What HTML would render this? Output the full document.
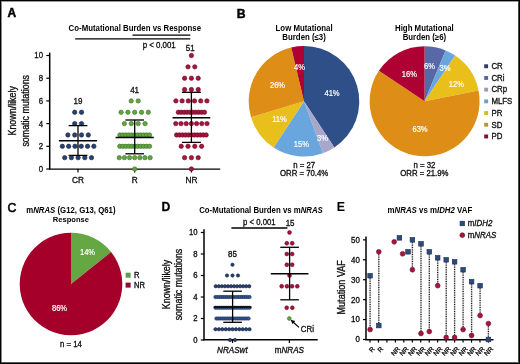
<!DOCTYPE html>
<html><head><meta charset="utf-8"><style>
html,body{margin:0;padding:0;background:#fff;}
body{width:520px;height:364px;overflow:hidden;}
svg{display:block;will-change:transform;}
text{font-family:"Liberation Sans",sans-serif;}
</style></head><body>
<svg width="520" height="364" viewBox="0 0 520 364">
<rect x="0" y="0" width="520" height="364" fill="#fff"/>
<defs><filter id="b" x="0" y="0" width="100%" height="100%"><feGaussianBlur stdDeviation="0.3"/></filter></defs>
<g filter="url(#b)">
<text transform="translate(7.6,17.1) scale(1.0,1)" font-size="12.000" text-anchor="start" font-weight="bold" fill="#000" stroke="#000" stroke-width="0.5">A</text>
<text transform="translate(134.8,30.8) scale(0.95,1)" font-size="8.263" text-anchor="middle" font-weight="bold" fill="#000">Co-Mutational Burden vs Response</text>
<line x1="132.5" y1="35.1" x2="190.3" y2="35.1" stroke="#000" stroke-width="1.3"/>
<line x1="75.2" y1="38.8" x2="190.3" y2="38.8" stroke="#000" stroke-width="1.3"/>
<text transform="translate(159.2,48.3) scale(0.88,1)" font-size="8.977" text-anchor="middle" fill="#0a0a0a" stroke="#0a0a0a" stroke-width="0.3">p &lt; 0.001</text>
<line x1="49.7" y1="52.6" x2="49.7" y2="169.6" stroke="#000" stroke-width="1.5"/>
<line x1="49.0" y1="169.1" x2="220.2" y2="169.1" stroke="#000" stroke-width="1.4"/>
<line x1="46.3" y1="169.0" x2="49.7" y2="169.0" stroke="#000" stroke-width="1.2"/>
<text transform="translate(43.0,171.9) scale(0.88,1)" font-size="8.864" text-anchor="end" fill="#0a0a0a" stroke="#0a0a0a" stroke-width="0.3">0</text>
<line x1="46.3" y1="146.3" x2="49.7" y2="146.3" stroke="#000" stroke-width="1.2"/>
<text transform="translate(43.0,149.20000000000002) scale(0.88,1)" font-size="8.864" text-anchor="end" fill="#0a0a0a" stroke="#0a0a0a" stroke-width="0.3">2</text>
<line x1="46.3" y1="123.6" x2="49.7" y2="123.6" stroke="#000" stroke-width="1.2"/>
<text transform="translate(43.0,126.5) scale(0.88,1)" font-size="8.864" text-anchor="end" fill="#0a0a0a" stroke="#0a0a0a" stroke-width="0.3">4</text>
<line x1="46.3" y1="100.9" x2="49.7" y2="100.9" stroke="#000" stroke-width="1.2"/>
<text transform="translate(43.0,103.80000000000001) scale(0.88,1)" font-size="8.864" text-anchor="end" fill="#0a0a0a" stroke="#0a0a0a" stroke-width="0.3">6</text>
<line x1="46.3" y1="78.2" x2="49.7" y2="78.2" stroke="#000" stroke-width="1.2"/>
<text transform="translate(43.0,81.10000000000001) scale(0.88,1)" font-size="8.864" text-anchor="end" fill="#0a0a0a" stroke="#0a0a0a" stroke-width="0.3">8</text>
<line x1="46.3" y1="55.5" x2="49.7" y2="55.5" stroke="#000" stroke-width="1.2"/>
<text transform="translate(43.0,58.4) scale(0.88,1)" font-size="8.864" text-anchor="end" fill="#0a0a0a" stroke="#0a0a0a" stroke-width="0.3">10</text>
<line x1="78.0" y1="169" x2="78.0" y2="172.4" stroke="#000" stroke-width="1.2"/>
<line x1="134.7" y1="169" x2="134.7" y2="172.4" stroke="#000" stroke-width="1.2"/>
<line x1="191.4" y1="169" x2="191.4" y2="172.4" stroke="#000" stroke-width="1.2"/>
<text transform="translate(78.0,183.1) scale(0.88,1)" font-size="9.432" text-anchor="middle" fill="#0a0a0a" stroke="#0a0a0a" stroke-width="0.3">CR</text>
<text transform="translate(134.7,183.1) scale(0.88,1)" font-size="9.432" text-anchor="middle" fill="#0a0a0a" stroke="#0a0a0a" stroke-width="0.3">R</text>
<text transform="translate(191.4,183.1) scale(0.88,1)" font-size="9.432" text-anchor="middle" fill="#0a0a0a" stroke="#0a0a0a" stroke-width="0.3">NR</text>
<g transform="translate(16.25,110.8) rotate(-90)">
<text transform="translate(0,0) scale(0.88,1)" font-size="10.114" text-anchor="middle" fill="#0a0a0a" stroke="#0a0a0a" stroke-width="0.3">Known/likely</text>
<text transform="translate(0,12.5) scale(0.88,1)" font-size="10.114" text-anchor="middle" fill="#0a0a0a" stroke="#0a0a0a" stroke-width="0.3">somatic mutations</text>
</g>
<circle cx="74.70" cy="112.25" r="2.20" fill="#28426f" stroke="#15223f" stroke-width="0.6"/>
<circle cx="81.50" cy="112.25" r="2.20" fill="#28426f" stroke="#15223f" stroke-width="0.6"/>
<circle cx="74.70" cy="123.60" r="2.20" fill="#28426f" stroke="#15223f" stroke-width="0.6"/>
<circle cx="81.50" cy="123.60" r="2.20" fill="#28426f" stroke="#15223f" stroke-width="0.6"/>
<circle cx="67.90" cy="134.95" r="2.20" fill="#28426f" stroke="#15223f" stroke-width="0.6"/>
<circle cx="74.70" cy="134.95" r="2.20" fill="#28426f" stroke="#15223f" stroke-width="0.6"/>
<circle cx="81.50" cy="134.95" r="2.20" fill="#28426f" stroke="#15223f" stroke-width="0.6"/>
<circle cx="88.30" cy="134.95" r="2.20" fill="#28426f" stroke="#15223f" stroke-width="0.6"/>
<circle cx="62.35" cy="146.30" r="2.20" fill="#28426f" stroke="#15223f" stroke-width="0.6"/>
<circle cx="68.65" cy="146.30" r="2.20" fill="#28426f" stroke="#15223f" stroke-width="0.6"/>
<circle cx="74.95" cy="146.30" r="2.20" fill="#28426f" stroke="#15223f" stroke-width="0.6"/>
<circle cx="81.25" cy="146.30" r="2.20" fill="#28426f" stroke="#15223f" stroke-width="0.6"/>
<circle cx="87.55" cy="146.30" r="2.20" fill="#28426f" stroke="#15223f" stroke-width="0.6"/>
<circle cx="93.85" cy="146.30" r="2.20" fill="#28426f" stroke="#15223f" stroke-width="0.6"/>
<circle cx="64.70" cy="157.65" r="2.20" fill="#28426f" stroke="#15223f" stroke-width="0.6"/>
<circle cx="71.40" cy="157.65" r="2.20" fill="#28426f" stroke="#15223f" stroke-width="0.6"/>
<circle cx="78.10" cy="157.65" r="2.20" fill="#28426f" stroke="#15223f" stroke-width="0.6"/>
<circle cx="84.80" cy="157.65" r="2.20" fill="#28426f" stroke="#15223f" stroke-width="0.6"/>
<circle cx="91.50" cy="157.65" r="2.20" fill="#28426f" stroke="#15223f" stroke-width="0.6"/>
<circle cx="131.20" cy="100.90" r="2.20" fill="#62a540" stroke="#3d7628" stroke-width="0.6"/>
<circle cx="138.20" cy="100.90" r="2.20" fill="#62a540" stroke="#3d7628" stroke-width="0.6"/>
<circle cx="121.10" cy="112.25" r="2.20" fill="#62a540" stroke="#3d7628" stroke-width="0.6"/>
<circle cx="127.90" cy="112.25" r="2.20" fill="#62a540" stroke="#3d7628" stroke-width="0.6"/>
<circle cx="134.70" cy="112.25" r="2.20" fill="#62a540" stroke="#3d7628" stroke-width="0.6"/>
<circle cx="141.50" cy="112.25" r="2.20" fill="#62a540" stroke="#3d7628" stroke-width="0.6"/>
<circle cx="148.30" cy="112.25" r="2.20" fill="#62a540" stroke="#3d7628" stroke-width="0.6"/>
<circle cx="124.35" cy="123.60" r="2.20" fill="#62a540" stroke="#3d7628" stroke-width="0.6"/>
<circle cx="131.25" cy="123.60" r="2.20" fill="#62a540" stroke="#3d7628" stroke-width="0.6"/>
<circle cx="138.15" cy="123.60" r="2.20" fill="#62a540" stroke="#3d7628" stroke-width="0.6"/>
<circle cx="145.05" cy="123.60" r="2.20" fill="#62a540" stroke="#3d7628" stroke-width="0.6"/>
<circle cx="119.85" cy="134.95" r="2.20" fill="#62a540" stroke="#3d7628" stroke-width="0.6"/>
<circle cx="122.82" cy="134.95" r="2.20" fill="#62a540" stroke="#3d7628" stroke-width="0.6"/>
<circle cx="125.79" cy="134.95" r="2.20" fill="#62a540" stroke="#3d7628" stroke-width="0.6"/>
<circle cx="128.76" cy="134.95" r="2.20" fill="#62a540" stroke="#3d7628" stroke-width="0.6"/>
<circle cx="131.73" cy="134.95" r="2.20" fill="#62a540" stroke="#3d7628" stroke-width="0.6"/>
<circle cx="134.70" cy="134.95" r="2.20" fill="#62a540" stroke="#3d7628" stroke-width="0.6"/>
<circle cx="137.67" cy="134.95" r="2.20" fill="#62a540" stroke="#3d7628" stroke-width="0.6"/>
<circle cx="140.64" cy="134.95" r="2.20" fill="#62a540" stroke="#3d7628" stroke-width="0.6"/>
<circle cx="143.61" cy="134.95" r="2.20" fill="#62a540" stroke="#3d7628" stroke-width="0.6"/>
<circle cx="146.58" cy="134.95" r="2.20" fill="#62a540" stroke="#3d7628" stroke-width="0.6"/>
<circle cx="149.55" cy="134.95" r="2.20" fill="#62a540" stroke="#3d7628" stroke-width="0.6"/>
<circle cx="119.85" cy="146.30" r="2.20" fill="#62a540" stroke="#3d7628" stroke-width="0.6"/>
<circle cx="122.82" cy="146.30" r="2.20" fill="#62a540" stroke="#3d7628" stroke-width="0.6"/>
<circle cx="125.79" cy="146.30" r="2.20" fill="#62a540" stroke="#3d7628" stroke-width="0.6"/>
<circle cx="128.76" cy="146.30" r="2.20" fill="#62a540" stroke="#3d7628" stroke-width="0.6"/>
<circle cx="131.73" cy="146.30" r="2.20" fill="#62a540" stroke="#3d7628" stroke-width="0.6"/>
<circle cx="134.70" cy="146.30" r="2.20" fill="#62a540" stroke="#3d7628" stroke-width="0.6"/>
<circle cx="137.67" cy="146.30" r="2.20" fill="#62a540" stroke="#3d7628" stroke-width="0.6"/>
<circle cx="140.64" cy="146.30" r="2.20" fill="#62a540" stroke="#3d7628" stroke-width="0.6"/>
<circle cx="143.61" cy="146.30" r="2.20" fill="#62a540" stroke="#3d7628" stroke-width="0.6"/>
<circle cx="146.58" cy="146.30" r="2.20" fill="#62a540" stroke="#3d7628" stroke-width="0.6"/>
<circle cx="149.55" cy="146.30" r="2.20" fill="#62a540" stroke="#3d7628" stroke-width="0.6"/>
<circle cx="119.25" cy="157.65" r="2.20" fill="#62a540" stroke="#3d7628" stroke-width="0.6"/>
<circle cx="124.40" cy="157.65" r="2.20" fill="#62a540" stroke="#3d7628" stroke-width="0.6"/>
<circle cx="129.55" cy="157.65" r="2.20" fill="#62a540" stroke="#3d7628" stroke-width="0.6"/>
<circle cx="134.70" cy="157.65" r="2.20" fill="#62a540" stroke="#3d7628" stroke-width="0.6"/>
<circle cx="139.85" cy="157.65" r="2.20" fill="#62a540" stroke="#3d7628" stroke-width="0.6"/>
<circle cx="145.00" cy="157.65" r="2.20" fill="#62a540" stroke="#3d7628" stroke-width="0.6"/>
<circle cx="150.15" cy="157.65" r="2.20" fill="#62a540" stroke="#3d7628" stroke-width="0.6"/>
<circle cx="134.70" cy="169.00" r="2.20" fill="#62a540" stroke="#3d7628" stroke-width="0.6"/>
<circle cx="191.40" cy="55.50" r="2.20" fill="#a8123c" stroke="#6b0a26" stroke-width="0.6"/>
<circle cx="188.00" cy="66.85" r="2.20" fill="#a8123c" stroke="#6b0a26" stroke-width="0.6"/>
<circle cx="194.80" cy="66.85" r="2.20" fill="#a8123c" stroke="#6b0a26" stroke-width="0.6"/>
<circle cx="184.60" cy="78.20" r="2.20" fill="#a8123c" stroke="#6b0a26" stroke-width="0.6"/>
<circle cx="191.40" cy="78.20" r="2.20" fill="#a8123c" stroke="#6b0a26" stroke-width="0.6"/>
<circle cx="198.20" cy="78.20" r="2.20" fill="#a8123c" stroke="#6b0a26" stroke-width="0.6"/>
<circle cx="184.60" cy="89.55" r="2.20" fill="#a8123c" stroke="#6b0a26" stroke-width="0.6"/>
<circle cx="191.40" cy="89.55" r="2.20" fill="#a8123c" stroke="#6b0a26" stroke-width="0.6"/>
<circle cx="198.20" cy="89.55" r="2.20" fill="#a8123c" stroke="#6b0a26" stroke-width="0.6"/>
<circle cx="175.90" cy="100.90" r="2.20" fill="#a8123c" stroke="#6b0a26" stroke-width="0.6"/>
<circle cx="182.10" cy="100.90" r="2.20" fill="#a8123c" stroke="#6b0a26" stroke-width="0.6"/>
<circle cx="188.30" cy="100.90" r="2.20" fill="#a8123c" stroke="#6b0a26" stroke-width="0.6"/>
<circle cx="194.50" cy="100.90" r="2.20" fill="#a8123c" stroke="#6b0a26" stroke-width="0.6"/>
<circle cx="200.70" cy="100.90" r="2.20" fill="#a8123c" stroke="#6b0a26" stroke-width="0.6"/>
<circle cx="206.90" cy="100.90" r="2.20" fill="#a8123c" stroke="#6b0a26" stroke-width="0.6"/>
<circle cx="178.35" cy="112.25" r="2.20" fill="#a8123c" stroke="#6b0a26" stroke-width="0.6"/>
<circle cx="181.25" cy="112.25" r="2.20" fill="#a8123c" stroke="#6b0a26" stroke-width="0.6"/>
<circle cx="184.15" cy="112.25" r="2.20" fill="#a8123c" stroke="#6b0a26" stroke-width="0.6"/>
<circle cx="187.05" cy="112.25" r="2.20" fill="#a8123c" stroke="#6b0a26" stroke-width="0.6"/>
<circle cx="189.95" cy="112.25" r="2.20" fill="#a8123c" stroke="#6b0a26" stroke-width="0.6"/>
<circle cx="192.85" cy="112.25" r="2.20" fill="#a8123c" stroke="#6b0a26" stroke-width="0.6"/>
<circle cx="195.75" cy="112.25" r="2.20" fill="#a8123c" stroke="#6b0a26" stroke-width="0.6"/>
<circle cx="198.65" cy="112.25" r="2.20" fill="#a8123c" stroke="#6b0a26" stroke-width="0.6"/>
<circle cx="201.55" cy="112.25" r="2.20" fill="#a8123c" stroke="#6b0a26" stroke-width="0.6"/>
<circle cx="204.45" cy="112.25" r="2.20" fill="#a8123c" stroke="#6b0a26" stroke-width="0.6"/>
<circle cx="175.80" cy="123.60" r="2.20" fill="#a8123c" stroke="#6b0a26" stroke-width="0.6"/>
<circle cx="181.00" cy="123.60" r="2.20" fill="#a8123c" stroke="#6b0a26" stroke-width="0.6"/>
<circle cx="186.20" cy="123.60" r="2.20" fill="#a8123c" stroke="#6b0a26" stroke-width="0.6"/>
<circle cx="191.40" cy="123.60" r="2.20" fill="#a8123c" stroke="#6b0a26" stroke-width="0.6"/>
<circle cx="196.60" cy="123.60" r="2.20" fill="#a8123c" stroke="#6b0a26" stroke-width="0.6"/>
<circle cx="201.80" cy="123.60" r="2.20" fill="#a8123c" stroke="#6b0a26" stroke-width="0.6"/>
<circle cx="207.00" cy="123.60" r="2.20" fill="#a8123c" stroke="#6b0a26" stroke-width="0.6"/>
<circle cx="176.60" cy="134.95" r="2.20" fill="#a8123c" stroke="#6b0a26" stroke-width="0.6"/>
<circle cx="179.56" cy="134.95" r="2.20" fill="#a8123c" stroke="#6b0a26" stroke-width="0.6"/>
<circle cx="182.52" cy="134.95" r="2.20" fill="#a8123c" stroke="#6b0a26" stroke-width="0.6"/>
<circle cx="185.48" cy="134.95" r="2.20" fill="#a8123c" stroke="#6b0a26" stroke-width="0.6"/>
<circle cx="188.44" cy="134.95" r="2.20" fill="#a8123c" stroke="#6b0a26" stroke-width="0.6"/>
<circle cx="191.40" cy="134.95" r="2.20" fill="#a8123c" stroke="#6b0a26" stroke-width="0.6"/>
<circle cx="194.36" cy="134.95" r="2.20" fill="#a8123c" stroke="#6b0a26" stroke-width="0.6"/>
<circle cx="197.32" cy="134.95" r="2.20" fill="#a8123c" stroke="#6b0a26" stroke-width="0.6"/>
<circle cx="200.28" cy="134.95" r="2.20" fill="#a8123c" stroke="#6b0a26" stroke-width="0.6"/>
<circle cx="203.24" cy="134.95" r="2.20" fill="#a8123c" stroke="#6b0a26" stroke-width="0.6"/>
<circle cx="206.20" cy="134.95" r="2.20" fill="#a8123c" stroke="#6b0a26" stroke-width="0.6"/>
<circle cx="181.20" cy="146.30" r="2.20" fill="#a8123c" stroke="#6b0a26" stroke-width="0.6"/>
<circle cx="188.00" cy="146.30" r="2.20" fill="#a8123c" stroke="#6b0a26" stroke-width="0.6"/>
<circle cx="194.80" cy="146.30" r="2.20" fill="#a8123c" stroke="#6b0a26" stroke-width="0.6"/>
<circle cx="201.60" cy="146.30" r="2.20" fill="#a8123c" stroke="#6b0a26" stroke-width="0.6"/>
<circle cx="184.60" cy="157.65" r="2.20" fill="#a8123c" stroke="#6b0a26" stroke-width="0.6"/>
<circle cx="191.40" cy="157.65" r="2.20" fill="#a8123c" stroke="#6b0a26" stroke-width="0.6"/>
<circle cx="198.20" cy="157.65" r="2.20" fill="#a8123c" stroke="#6b0a26" stroke-width="0.6"/>
<circle cx="191.40" cy="169.00" r="2.20" fill="#a8123c" stroke="#6b0a26" stroke-width="0.6"/>
<line x1="78.0" y1="125.6" x2="78.0" y2="155.4" stroke="#000" stroke-width="1.3"/>
<line x1="68.6" y1="125.6" x2="87.4" y2="125.6" stroke="#000" stroke-width="1.3"/>
<line x1="68.6" y1="155.4" x2="87.4" y2="155.4" stroke="#000" stroke-width="1.3"/>
<line x1="58.9" y1="140.8" x2="97.1" y2="140.8" stroke="#000" stroke-width="1.5"/>
<line x1="134.7" y1="120.0" x2="134.7" y2="153.8" stroke="#000" stroke-width="1.3"/>
<line x1="125.39999999999999" y1="120.0" x2="144.0" y2="120.0" stroke="#000" stroke-width="1.3"/>
<line x1="125.39999999999999" y1="153.8" x2="144.0" y2="153.8" stroke="#000" stroke-width="1.3"/>
<line x1="115.6" y1="137.4" x2="153.79999999999998" y2="137.4" stroke="#000" stroke-width="1.5"/>
<line x1="191.4" y1="92.3" x2="191.4" y2="142.4" stroke="#000" stroke-width="1.3"/>
<line x1="181.9" y1="92.3" x2="200.9" y2="92.3" stroke="#000" stroke-width="1.3"/>
<line x1="181.9" y1="142.4" x2="200.9" y2="142.4" stroke="#000" stroke-width="1.3"/>
<line x1="172.55" y1="117.8" x2="210.25" y2="117.8" stroke="#000" stroke-width="1.5"/>
<text transform="translate(78.0,103.7) scale(0.88,1)" font-size="9.091" text-anchor="middle" fill="#0a0a0a" stroke="#0a0a0a" stroke-width="0.3">19</text>
<text transform="translate(134.6,93.2) scale(0.88,1)" font-size="9.091" text-anchor="middle" fill="#0a0a0a" stroke="#0a0a0a" stroke-width="0.3">41</text>
<text transform="translate(190.2,50.8) scale(0.88,1)" font-size="9.091" text-anchor="middle" fill="#0a0a0a" stroke="#0a0a0a" stroke-width="0.3">51</text>
<text transform="translate(236.8,17.6) scale(1.0,1)" font-size="12.200" text-anchor="start" font-weight="bold" fill="#000" stroke="#000" stroke-width="0.45">B</text>
<text transform="translate(304.1,30.7) scale(0.95,1)" font-size="8.263" text-anchor="middle" font-weight="bold" fill="#000">Low Mutational</text>
<text transform="translate(304.1,39.6) scale(0.95,1)" font-size="8.263" text-anchor="middle" font-weight="bold" fill="#000">Burden (≤3)</text>
<text transform="translate(424.4,30.7) scale(0.95,1)" font-size="8.263" text-anchor="middle" font-weight="bold" fill="#000">High Mutational</text>
<text transform="translate(424.4,39.6) scale(0.95,1)" font-size="8.263" text-anchor="middle" font-weight="bold" fill="#000">Burden (≥6)</text>
<path d="M304.0,101.3 L304.00,46.00 A55.3,55.3 0 0 1 334.39,147.50 Z" fill="#2f4f87"/>
<path d="M304.0,101.3 L334.39,147.50 A55.3,55.3 0 0 1 322.91,153.27 Z" fill="#a7a6cb"/>
<path d="M304.0,101.3 L322.91,153.27 A55.3,55.3 0 0 1 273.61,147.50 Z" fill="#69a6de"/>
<path d="M304.0,101.3 L273.61,147.50 A55.3,55.3 0 0 1 251.02,117.16 Z" fill="#e9bf1f"/>
<path d="M304.0,101.3 L251.02,117.16 A55.3,55.3 0 0 1 291.25,47.49 Z" fill="#de8e18"/>
<path d="M304.0,101.3 L291.25,47.49 A55.3,55.3 0 0 1 304.00,46.00 Z" fill="#ae0530"/>
<path d="M424.6,101.3 L424.60,46.30 A55.0,55.0 0 0 1 445.65,50.49 Z" fill="#5868a6"/>
<path d="M424.6,101.3 L445.65,50.49 A55.0,55.0 0 0 1 455.16,55.57 Z" fill="#69a6de"/>
<path d="M424.6,101.3 L455.16,55.57 A55.0,55.0 0 0 1 478.54,90.57 Z" fill="#e9bf1f"/>
<path d="M424.6,101.3 L478.54,90.57 A55.0,55.0 0 1 1 378.87,70.74 Z" fill="#de8e18"/>
<path d="M424.6,101.3 L378.87,70.74 A55.0,55.0 0 0 1 424.60,46.30 Z" fill="#ae0530"/>
<text transform="translate(332.0,96.0) scale(0.88,1)" font-size="8.636" text-anchor="middle" fill="#ffffff" stroke="#ffffff" stroke-width="0.2">41%</text>
<text transform="translate(299.4,70.2) scale(0.88,1)" font-size="8.636" text-anchor="middle" fill="#ffffff" stroke="#ffffff" stroke-width="0.2">4%</text>
<text transform="translate(277.5,88.2) scale(0.88,1)" font-size="8.636" text-anchor="middle" fill="#ffffff" stroke="#ffffff" stroke-width="0.2">26%</text>
<text transform="translate(279.5,122.0) scale(0.88,1)" font-size="8.636" text-anchor="middle" fill="#ffffff" stroke="#ffffff" stroke-width="0.2">11%</text>
<text transform="translate(301.3,146.8) scale(0.88,1)" font-size="8.636" text-anchor="middle" fill="#ffffff" stroke="#ffffff" stroke-width="0.2">15%</text>
<text transform="translate(322.5,140.7) scale(0.88,1)" font-size="8.636" text-anchor="middle" fill="#ffffff" stroke="#ffffff" stroke-width="0.2">3%</text>
<text transform="translate(409.3,77.0) scale(0.88,1)" font-size="8.636" text-anchor="middle" fill="#ffffff" stroke="#ffffff" stroke-width="0.2">16%</text>
<text transform="translate(429.5,69.0) scale(0.88,1)" font-size="8.636" text-anchor="middle" fill="#ffffff" stroke="#ffffff" stroke-width="0.2">6%</text>
<text transform="translate(445.0,70.8) scale(0.88,1)" font-size="8.636" text-anchor="middle" fill="#ffffff" stroke="#ffffff" stroke-width="0.2">3%</text>
<text transform="translate(456.3,87.2) scale(0.88,1)" font-size="8.636" text-anchor="middle" fill="#ffffff" stroke="#ffffff" stroke-width="0.2">12%</text>
<text transform="translate(420.0,131.8) scale(0.88,1)" font-size="8.636" text-anchor="middle" fill="#ffffff" stroke="#ffffff" stroke-width="0.2">63%</text>
<text transform="translate(304.1,167.5) scale(0.88,1)" font-size="8.864" text-anchor="middle" fill="#0a0a0a" stroke="#0a0a0a" stroke-width="0.3">n = 27</text>
<text transform="translate(304.1,176.3) scale(0.88,1)" font-size="8.864" text-anchor="middle" fill="#0a0a0a" stroke="#0a0a0a" stroke-width="0.3">ORR = 70.4%</text>
<text transform="translate(424.4,167.5) scale(0.88,1)" font-size="8.864" text-anchor="middle" fill="#0a0a0a" stroke="#0a0a0a" stroke-width="0.3">n = 32</text>
<text transform="translate(424.4,176.3) scale(0.88,1)" font-size="8.864" text-anchor="middle" fill="#0a0a0a" stroke="#0a0a0a" stroke-width="0.3">ORR = 21.9%</text>
<rect x="484.2" y="64.30" width="3.9" height="3.9" fill="#2a3d6c"/>
<text transform="translate(491.4,69.0) scale(0.88,1)" font-size="8.920" text-anchor="start" fill="#0a0a0a" stroke="#0a0a0a" stroke-width="0.3">CR</text>
<rect x="484.2" y="76.00" width="3.9" height="3.9" fill="#5666a0"/>
<text transform="translate(491.4,80.7) scale(0.88,1)" font-size="8.920" text-anchor="start" fill="#0a0a0a" stroke="#0a0a0a" stroke-width="0.3">CRi</text>
<rect x="484.2" y="87.70" width="3.9" height="3.9" fill="#9d9cb6"/>
<text transform="translate(491.4,92.39999999999999) scale(0.88,1)" font-size="8.920" text-anchor="start" fill="#0a0a0a" stroke="#0a0a0a" stroke-width="0.3">CRp</text>
<rect x="484.2" y="99.40" width="3.9" height="3.9" fill="#6b9fcf"/>
<text transform="translate(491.4,104.1) scale(0.88,1)" font-size="8.920" text-anchor="start" fill="#0a0a0a" stroke="#0a0a0a" stroke-width="0.3">MLFS</text>
<rect x="484.2" y="111.10" width="3.9" height="3.9" fill="#d3bd26"/>
<text transform="translate(491.4,115.8) scale(0.88,1)" font-size="8.920" text-anchor="start" fill="#0a0a0a" stroke="#0a0a0a" stroke-width="0.3">PR</text>
<rect x="484.2" y="122.80" width="3.9" height="3.9" fill="#bb952e"/>
<text transform="translate(491.4,127.5) scale(0.88,1)" font-size="8.920" text-anchor="start" fill="#0a0a0a" stroke="#0a0a0a" stroke-width="0.3">SD</text>
<rect x="484.2" y="134.50" width="3.9" height="3.9" fill="#801030"/>
<text transform="translate(491.4,139.2) scale(0.88,1)" font-size="8.920" text-anchor="start" fill="#0a0a0a" stroke="#0a0a0a" stroke-width="0.3">PD</text>
<text transform="translate(7.5,211.55) scale(0.97,1)" font-size="12.784" text-anchor="start" fill="#000" stroke="#000" stroke-width="0.55">C</text>
<text transform="translate(70.9,212.9) scale(0.95,1)" font-size="8.211" text-anchor="middle" font-weight="bold" fill="#000">m<tspan font-style="italic">NRAS</tspan> (G12, G13, Q61)</text>
<text transform="translate(70.9,222.4) scale(0.95,1)" font-size="8.000" text-anchor="middle" font-weight="bold" fill="#000">Response</text>
<path d="M71.0,284.0 L71.00,232.70 A51.3,51.3 0 0 1 111.11,252.01 Z" fill="#65a742"/>
<path d="M71.0,284.0 L111.11,252.01 A51.3,51.3 0 1 1 71.00,232.70 Z" fill="#a5002c"/>
<text transform="translate(87.5,255.2) scale(0.88,1)" font-size="8.636" text-anchor="middle" fill="#fff" stroke="#fff" stroke-width="0.2">14%</text>
<text transform="translate(59.5,310.8) scale(0.88,1)" font-size="8.636" text-anchor="middle" fill="#fff" stroke="#fff" stroke-width="0.2">86%</text>
<text transform="translate(70.9,346.5) scale(0.88,1)" font-size="8.864" text-anchor="middle" fill="#0a0a0a" stroke="#0a0a0a" stroke-width="0.3">n = 14</text>
<rect x="125.6" y="272.7" width="5.0" height="5.0" fill="#5e9c48"/>
<rect x="125.6" y="282.6" width="5.0" height="5.0" fill="#920a30"/>
<text transform="translate(134.1,277.8) scale(0.88,1)" font-size="8.636" text-anchor="start" fill="#0a0a0a" stroke="#0a0a0a" stroke-width="0.3">R</text>
<text transform="translate(134.1,287.7) scale(0.88,1)" font-size="8.636" text-anchor="start" fill="#0a0a0a" stroke="#0a0a0a" stroke-width="0.3">NR</text>
<text transform="translate(161.6,210.9) scale(1.0,1)" font-size="12.200" text-anchor="start" font-weight="bold" fill="#000" stroke="#000" stroke-width="0.3">D</text>
<text transform="translate(261.0,212.9) scale(0.95,1)" font-size="8.242" text-anchor="middle" font-weight="bold" fill="#000">Co-Mutational Burden vs m<tspan font-style="italic">NRAS</tspan></text>
<line x1="231.4" y1="228.0" x2="287.4" y2="228.0" stroke="#000" stroke-width="1.3"/>
<text transform="translate(259.3,225.3) scale(0.88,1)" font-size="8.807" text-anchor="middle" fill="#0a0a0a" stroke="#0a0a0a" stroke-width="0.3">p &lt; 0.001</text>
<line x1="204.0" y1="229.3" x2="204.0" y2="340.3" stroke="#000" stroke-width="1.5"/>
<line x1="203.4" y1="339.7" x2="317.7" y2="339.7" stroke="#000" stroke-width="1.4"/>
<line x1="200.8" y1="340.0" x2="204.0" y2="340.0" stroke="#000" stroke-width="1.2"/>
<text transform="translate(197.6,342.6) scale(0.88,1)" font-size="8.750" text-anchor="end" fill="#0a0a0a" stroke="#0a0a0a" stroke-width="0.3">0</text>
<line x1="200.8" y1="318.5" x2="204.0" y2="318.5" stroke="#000" stroke-width="1.2"/>
<text transform="translate(197.6,321.1) scale(0.88,1)" font-size="8.750" text-anchor="end" fill="#0a0a0a" stroke="#0a0a0a" stroke-width="0.3">2</text>
<line x1="200.8" y1="297.0" x2="204.0" y2="297.0" stroke="#000" stroke-width="1.2"/>
<text transform="translate(197.6,299.6) scale(0.88,1)" font-size="8.750" text-anchor="end" fill="#0a0a0a" stroke="#0a0a0a" stroke-width="0.3">4</text>
<line x1="200.8" y1="275.5" x2="204.0" y2="275.5" stroke="#000" stroke-width="1.2"/>
<text transform="translate(197.6,278.1) scale(0.88,1)" font-size="8.750" text-anchor="end" fill="#0a0a0a" stroke="#0a0a0a" stroke-width="0.3">6</text>
<line x1="200.8" y1="254.0" x2="204.0" y2="254.0" stroke="#000" stroke-width="1.2"/>
<text transform="translate(197.6,256.6) scale(0.88,1)" font-size="8.750" text-anchor="end" fill="#0a0a0a" stroke="#0a0a0a" stroke-width="0.3">8</text>
<line x1="200.8" y1="232.5" x2="204.0" y2="232.5" stroke="#000" stroke-width="1.2"/>
<text transform="translate(197.6,235.1) scale(0.88,1)" font-size="8.750" text-anchor="end" fill="#0a0a0a" stroke="#0a0a0a" stroke-width="0.3">10</text>
<line x1="232.5" y1="339.7" x2="232.5" y2="343.0" stroke="#000" stroke-width="1.2"/>
<line x1="289.4" y1="339.7" x2="289.4" y2="343.0" stroke="#000" stroke-width="1.2"/>
<text transform="translate(232.4,352.8) scale(0.88,1)" font-size="9.205" text-anchor="middle" font-style="italic" fill="#0a0a0a" stroke="#0a0a0a" stroke-width="0.3">NRASwt</text>
<text transform="translate(289.4,352.8) scale(0.88,1)" font-size="9.205" text-anchor="middle" fill="#0a0a0a" stroke="#0a0a0a" stroke-width="0.3">m<tspan font-style="italic">NRAS</tspan></text>
<g transform="translate(170.1,284.5) rotate(-90)">
<text transform="translate(0,0) scale(0.88,1)" font-size="10.114" text-anchor="middle" fill="#0a0a0a" stroke="#0a0a0a" stroke-width="0.3">Known/likely</text>
<text transform="translate(0,12.1) scale(0.88,1)" font-size="10.114" text-anchor="middle" fill="#0a0a0a" stroke="#0a0a0a" stroke-width="0.3">somatic mutations</text>
</g>
<circle cx="232.50" cy="264.75" r="1.65" fill="#28426f" stroke="#15223f" stroke-width="0.6"/>
<circle cx="227.00" cy="275.50" r="1.65" fill="#28426f" stroke="#15223f" stroke-width="0.6"/>
<circle cx="232.50" cy="275.50" r="1.65" fill="#28426f" stroke="#15223f" stroke-width="0.6"/>
<circle cx="238.00" cy="275.50" r="1.65" fill="#28426f" stroke="#15223f" stroke-width="0.6"/>
<circle cx="215.72" cy="286.25" r="1.65" fill="#28426f" stroke="#15223f" stroke-width="0.6"/>
<circle cx="218.78" cy="286.25" r="1.65" fill="#28426f" stroke="#15223f" stroke-width="0.6"/>
<circle cx="221.82" cy="286.25" r="1.65" fill="#28426f" stroke="#15223f" stroke-width="0.6"/>
<circle cx="224.88" cy="286.25" r="1.65" fill="#28426f" stroke="#15223f" stroke-width="0.6"/>
<circle cx="227.92" cy="286.25" r="1.65" fill="#28426f" stroke="#15223f" stroke-width="0.6"/>
<circle cx="230.97" cy="286.25" r="1.65" fill="#28426f" stroke="#15223f" stroke-width="0.6"/>
<circle cx="234.02" cy="286.25" r="1.65" fill="#28426f" stroke="#15223f" stroke-width="0.6"/>
<circle cx="237.07" cy="286.25" r="1.65" fill="#28426f" stroke="#15223f" stroke-width="0.6"/>
<circle cx="240.12" cy="286.25" r="1.65" fill="#28426f" stroke="#15223f" stroke-width="0.6"/>
<circle cx="243.17" cy="286.25" r="1.65" fill="#28426f" stroke="#15223f" stroke-width="0.6"/>
<circle cx="246.22" cy="286.25" r="1.65" fill="#28426f" stroke="#15223f" stroke-width="0.6"/>
<circle cx="249.27" cy="286.25" r="1.65" fill="#28426f" stroke="#15223f" stroke-width="0.6"/>
<circle cx="215.40" cy="297.00" r="1.65" fill="#36568f" stroke="#1f3360" stroke-width="0.6"/>
<circle cx="217.30" cy="297.00" r="1.65" fill="#36568f" stroke="#1f3360" stroke-width="0.6"/>
<circle cx="219.20" cy="297.00" r="1.65" fill="#36568f" stroke="#1f3360" stroke-width="0.6"/>
<circle cx="221.10" cy="297.00" r="1.65" fill="#36568f" stroke="#1f3360" stroke-width="0.6"/>
<circle cx="223.00" cy="297.00" r="1.65" fill="#36568f" stroke="#1f3360" stroke-width="0.6"/>
<circle cx="224.90" cy="297.00" r="1.65" fill="#36568f" stroke="#1f3360" stroke-width="0.6"/>
<circle cx="226.80" cy="297.00" r="1.65" fill="#36568f" stroke="#1f3360" stroke-width="0.6"/>
<circle cx="228.70" cy="297.00" r="1.65" fill="#36568f" stroke="#1f3360" stroke-width="0.6"/>
<circle cx="230.60" cy="297.00" r="1.65" fill="#36568f" stroke="#1f3360" stroke-width="0.6"/>
<circle cx="232.50" cy="297.00" r="1.65" fill="#36568f" stroke="#1f3360" stroke-width="0.6"/>
<circle cx="234.40" cy="297.00" r="1.65" fill="#36568f" stroke="#1f3360" stroke-width="0.6"/>
<circle cx="236.30" cy="297.00" r="1.65" fill="#36568f" stroke="#1f3360" stroke-width="0.6"/>
<circle cx="238.20" cy="297.00" r="1.65" fill="#36568f" stroke="#1f3360" stroke-width="0.6"/>
<circle cx="240.10" cy="297.00" r="1.65" fill="#36568f" stroke="#1f3360" stroke-width="0.6"/>
<circle cx="242.00" cy="297.00" r="1.65" fill="#36568f" stroke="#1f3360" stroke-width="0.6"/>
<circle cx="243.90" cy="297.00" r="1.65" fill="#36568f" stroke="#1f3360" stroke-width="0.6"/>
<circle cx="245.80" cy="297.00" r="1.65" fill="#36568f" stroke="#1f3360" stroke-width="0.6"/>
<circle cx="247.70" cy="297.00" r="1.65" fill="#36568f" stroke="#1f3360" stroke-width="0.6"/>
<circle cx="249.60" cy="297.00" r="1.65" fill="#36568f" stroke="#1f3360" stroke-width="0.6"/>
<circle cx="215.40" cy="307.75" r="1.65" fill="#36568f" stroke="#1f3360" stroke-width="0.6"/>
<circle cx="217.30" cy="307.75" r="1.65" fill="#36568f" stroke="#1f3360" stroke-width="0.6"/>
<circle cx="219.20" cy="307.75" r="1.65" fill="#36568f" stroke="#1f3360" stroke-width="0.6"/>
<circle cx="221.10" cy="307.75" r="1.65" fill="#36568f" stroke="#1f3360" stroke-width="0.6"/>
<circle cx="223.00" cy="307.75" r="1.65" fill="#36568f" stroke="#1f3360" stroke-width="0.6"/>
<circle cx="224.90" cy="307.75" r="1.65" fill="#36568f" stroke="#1f3360" stroke-width="0.6"/>
<circle cx="226.80" cy="307.75" r="1.65" fill="#36568f" stroke="#1f3360" stroke-width="0.6"/>
<circle cx="228.70" cy="307.75" r="1.65" fill="#36568f" stroke="#1f3360" stroke-width="0.6"/>
<circle cx="230.60" cy="307.75" r="1.65" fill="#36568f" stroke="#1f3360" stroke-width="0.6"/>
<circle cx="232.50" cy="307.75" r="1.65" fill="#36568f" stroke="#1f3360" stroke-width="0.6"/>
<circle cx="234.40" cy="307.75" r="1.65" fill="#36568f" stroke="#1f3360" stroke-width="0.6"/>
<circle cx="236.30" cy="307.75" r="1.65" fill="#36568f" stroke="#1f3360" stroke-width="0.6"/>
<circle cx="238.20" cy="307.75" r="1.65" fill="#36568f" stroke="#1f3360" stroke-width="0.6"/>
<circle cx="240.10" cy="307.75" r="1.65" fill="#36568f" stroke="#1f3360" stroke-width="0.6"/>
<circle cx="242.00" cy="307.75" r="1.65" fill="#36568f" stroke="#1f3360" stroke-width="0.6"/>
<circle cx="243.90" cy="307.75" r="1.65" fill="#36568f" stroke="#1f3360" stroke-width="0.6"/>
<circle cx="245.80" cy="307.75" r="1.65" fill="#36568f" stroke="#1f3360" stroke-width="0.6"/>
<circle cx="247.70" cy="307.75" r="1.65" fill="#36568f" stroke="#1f3360" stroke-width="0.6"/>
<circle cx="249.60" cy="307.75" r="1.65" fill="#36568f" stroke="#1f3360" stroke-width="0.6"/>
<circle cx="216.35" cy="318.50" r="1.65" fill="#36568f" stroke="#1f3360" stroke-width="0.6"/>
<circle cx="218.25" cy="318.50" r="1.65" fill="#36568f" stroke="#1f3360" stroke-width="0.6"/>
<circle cx="220.15" cy="318.50" r="1.65" fill="#36568f" stroke="#1f3360" stroke-width="0.6"/>
<circle cx="222.05" cy="318.50" r="1.65" fill="#36568f" stroke="#1f3360" stroke-width="0.6"/>
<circle cx="223.95" cy="318.50" r="1.65" fill="#36568f" stroke="#1f3360" stroke-width="0.6"/>
<circle cx="225.85" cy="318.50" r="1.65" fill="#36568f" stroke="#1f3360" stroke-width="0.6"/>
<circle cx="227.75" cy="318.50" r="1.65" fill="#36568f" stroke="#1f3360" stroke-width="0.6"/>
<circle cx="229.65" cy="318.50" r="1.65" fill="#36568f" stroke="#1f3360" stroke-width="0.6"/>
<circle cx="231.55" cy="318.50" r="1.65" fill="#36568f" stroke="#1f3360" stroke-width="0.6"/>
<circle cx="233.45" cy="318.50" r="1.65" fill="#36568f" stroke="#1f3360" stroke-width="0.6"/>
<circle cx="235.35" cy="318.50" r="1.65" fill="#36568f" stroke="#1f3360" stroke-width="0.6"/>
<circle cx="237.25" cy="318.50" r="1.65" fill="#36568f" stroke="#1f3360" stroke-width="0.6"/>
<circle cx="239.15" cy="318.50" r="1.65" fill="#36568f" stroke="#1f3360" stroke-width="0.6"/>
<circle cx="241.05" cy="318.50" r="1.65" fill="#36568f" stroke="#1f3360" stroke-width="0.6"/>
<circle cx="242.95" cy="318.50" r="1.65" fill="#36568f" stroke="#1f3360" stroke-width="0.6"/>
<circle cx="244.85" cy="318.50" r="1.65" fill="#36568f" stroke="#1f3360" stroke-width="0.6"/>
<circle cx="246.75" cy="318.50" r="1.65" fill="#36568f" stroke="#1f3360" stroke-width="0.6"/>
<circle cx="248.65" cy="318.50" r="1.65" fill="#36568f" stroke="#1f3360" stroke-width="0.6"/>
<circle cx="215.50" cy="329.25" r="1.65" fill="#28426f" stroke="#15223f" stroke-width="0.6"/>
<circle cx="218.90" cy="329.25" r="1.65" fill="#28426f" stroke="#15223f" stroke-width="0.6"/>
<circle cx="222.30" cy="329.25" r="1.65" fill="#28426f" stroke="#15223f" stroke-width="0.6"/>
<circle cx="225.70" cy="329.25" r="1.65" fill="#28426f" stroke="#15223f" stroke-width="0.6"/>
<circle cx="229.10" cy="329.25" r="1.65" fill="#28426f" stroke="#15223f" stroke-width="0.6"/>
<circle cx="232.50" cy="329.25" r="1.65" fill="#28426f" stroke="#15223f" stroke-width="0.6"/>
<circle cx="235.90" cy="329.25" r="1.65" fill="#28426f" stroke="#15223f" stroke-width="0.6"/>
<circle cx="239.30" cy="329.25" r="1.65" fill="#28426f" stroke="#15223f" stroke-width="0.6"/>
<circle cx="242.70" cy="329.25" r="1.65" fill="#28426f" stroke="#15223f" stroke-width="0.6"/>
<circle cx="246.10" cy="329.25" r="1.65" fill="#28426f" stroke="#15223f" stroke-width="0.6"/>
<circle cx="249.50" cy="329.25" r="1.65" fill="#28426f" stroke="#15223f" stroke-width="0.6"/>
<circle cx="230.00" cy="340.00" r="1.65" fill="#28426f" stroke="#15223f" stroke-width="0.6"/>
<circle cx="235.00" cy="340.00" r="1.65" fill="#28426f" stroke="#15223f" stroke-width="0.6"/>
<circle cx="289.50" cy="232.50" r="1.90" fill="#a8123c" stroke="#6b0a26" stroke-width="0.6"/>
<circle cx="286.80" cy="243.25" r="1.90" fill="#a8123c" stroke="#6b0a26" stroke-width="0.6"/>
<circle cx="292.20" cy="243.25" r="1.90" fill="#a8123c" stroke="#6b0a26" stroke-width="0.6"/>
<circle cx="286.80" cy="254.00" r="1.90" fill="#a8123c" stroke="#6b0a26" stroke-width="0.6"/>
<circle cx="292.20" cy="254.00" r="1.90" fill="#a8123c" stroke="#6b0a26" stroke-width="0.6"/>
<circle cx="286.80" cy="264.75" r="1.90" fill="#a8123c" stroke="#6b0a26" stroke-width="0.6"/>
<circle cx="292.20" cy="264.75" r="1.90" fill="#a8123c" stroke="#6b0a26" stroke-width="0.6"/>
<circle cx="289.50" cy="275.50" r="1.90" fill="#a8123c" stroke="#6b0a26" stroke-width="0.6"/>
<circle cx="281.70" cy="286.25" r="1.90" fill="#a8123c" stroke="#6b0a26" stroke-width="0.6"/>
<circle cx="286.90" cy="286.25" r="1.90" fill="#a8123c" stroke="#6b0a26" stroke-width="0.6"/>
<circle cx="292.10" cy="286.25" r="1.90" fill="#a8123c" stroke="#6b0a26" stroke-width="0.6"/>
<circle cx="297.30" cy="286.25" r="1.90" fill="#a8123c" stroke="#6b0a26" stroke-width="0.6"/>
<circle cx="286.70" cy="307.75" r="1.90" fill="#a8123c" stroke="#6b0a26" stroke-width="0.6"/>
<circle cx="292.30" cy="307.75" r="1.90" fill="#a8123c" stroke="#6b0a26" stroke-width="0.6"/>
<circle cx="289.30" cy="318.50" r="1.90" fill="#62a540" stroke="#3d7628" stroke-width="0.6"/>
<line x1="232.6" y1="291.2" x2="232.6" y2="322.3" stroke="#000" stroke-width="1.3"/>
<line x1="223.29999999999998" y1="291.2" x2="241.9" y2="291.2" stroke="#000" stroke-width="1.3"/>
<line x1="223.29999999999998" y1="322.3" x2="241.9" y2="322.3" stroke="#000" stroke-width="1.3"/>
<line x1="213.79999999999998" y1="306.9" x2="251.4" y2="306.9" stroke="#000" stroke-width="1.5"/>
<line x1="289.6" y1="247.3" x2="289.6" y2="299.8" stroke="#000" stroke-width="1.3"/>
<line x1="280.3" y1="247.3" x2="298.90000000000003" y2="247.3" stroke="#000" stroke-width="1.3"/>
<line x1="280.3" y1="299.8" x2="298.90000000000003" y2="299.8" stroke="#000" stroke-width="1.3"/>
<line x1="270.8" y1="273.8" x2="308.40000000000003" y2="273.8" stroke="#000" stroke-width="1.5"/>
<text transform="translate(232.5,257.3) scale(0.88,1)" font-size="9.091" text-anchor="middle" fill="#0a0a0a" stroke="#0a0a0a" stroke-width="0.3">85</text>
<text transform="translate(290.1,225.6) scale(0.88,1)" font-size="9.091" text-anchor="middle" fill="#0a0a0a" stroke="#0a0a0a" stroke-width="0.3">15</text>
<line x1="299.0" y1="327.4" x2="293.0" y2="322.0" stroke="#000" stroke-width="1.2"/>
<path d="M290.6,319.8 L295.3,321.0 L292.4,323.9 Z" fill="#000"/>
<text transform="translate(300.8,331.6) scale(0.88,1)" font-size="8.977" text-anchor="start" fill="#0a0a0a" stroke="#0a0a0a" stroke-width="0.3">CRi</text>
<text transform="translate(336.7,210.9) scale(0.97,1)" font-size="12.680" text-anchor="start" font-weight="bold" fill="#000" stroke="#000" stroke-width="0.1">E</text>
<text transform="translate(429.9,212.6) scale(0.95,1)" font-size="8.295" text-anchor="middle" font-weight="bold" fill="#000">m<tspan font-style="italic">NRAS</tspan> vs m<tspan font-style="italic">IDH2</tspan> VAF</text>
<line x1="366.0" y1="236.5" x2="366.0" y2="339.9" stroke="#000" stroke-width="1.5"/>
<line x1="365.3" y1="339.7" x2="493.5" y2="339.7" stroke="#000" stroke-width="1.5"/>
<line x1="363.0" y1="339.5" x2="366.0" y2="339.5" stroke="#000" stroke-width="1.2"/>
<text transform="translate(359.8,342.4) scale(0.88,1)" font-size="8.977" text-anchor="end" fill="#0a0a0a" stroke="#0a0a0a" stroke-width="0.3">0</text>
<line x1="363.0" y1="319.57" x2="366.0" y2="319.57" stroke="#000" stroke-width="1.2"/>
<text transform="translate(359.8,322.46999999999997) scale(0.88,1)" font-size="8.977" text-anchor="end" fill="#0a0a0a" stroke="#0a0a0a" stroke-width="0.3">10</text>
<line x1="363.0" y1="299.64" x2="366.0" y2="299.64" stroke="#000" stroke-width="1.2"/>
<text transform="translate(359.8,302.53999999999996) scale(0.88,1)" font-size="8.977" text-anchor="end" fill="#0a0a0a" stroke="#0a0a0a" stroke-width="0.3">20</text>
<line x1="363.0" y1="279.71" x2="366.0" y2="279.71" stroke="#000" stroke-width="1.2"/>
<text transform="translate(359.8,282.60999999999996) scale(0.88,1)" font-size="8.977" text-anchor="end" fill="#0a0a0a" stroke="#0a0a0a" stroke-width="0.3">30</text>
<line x1="363.0" y1="259.78" x2="366.0" y2="259.78" stroke="#000" stroke-width="1.2"/>
<text transform="translate(359.8,262.67999999999995) scale(0.88,1)" font-size="8.977" text-anchor="end" fill="#0a0a0a" stroke="#0a0a0a" stroke-width="0.3">40</text>
<line x1="363.0" y1="239.85" x2="366.0" y2="239.85" stroke="#000" stroke-width="1.2"/>
<text transform="translate(359.8,242.75) scale(0.88,1)" font-size="8.977" text-anchor="end" fill="#0a0a0a" stroke="#0a0a0a" stroke-width="0.3">50</text>
<line x1="370.0" y1="339.7" x2="370.0" y2="342.6" stroke="#000" stroke-width="1.2"/>
<g transform="translate(375.10,349.5) rotate(-45)">
<text transform="translate(0,0) scale(1.0,1)" font-size="6.600" text-anchor="end" fill="#0a0a0a" stroke="#0a0a0a" stroke-width="0.3">R</text>
</g>
<line x1="378.46" y1="339.7" x2="378.46" y2="342.6" stroke="#000" stroke-width="1.2"/>
<g transform="translate(383.56,349.5) rotate(-45)">
<text transform="translate(0,0) scale(1.0,1)" font-size="6.600" text-anchor="end" fill="#0a0a0a" stroke="#0a0a0a" stroke-width="0.3">R</text>
</g>
<line x1="386.92" y1="339.7" x2="386.92" y2="342.6" stroke="#000" stroke-width="1.2"/>
<line x1="395.38" y1="339.7" x2="395.38" y2="342.6" stroke="#000" stroke-width="1.2"/>
<g transform="translate(400.48,349.5) rotate(-45)">
<text transform="translate(0,0) scale(1.0,1)" font-size="6.600" text-anchor="end" fill="#0a0a0a" stroke="#0a0a0a" stroke-width="0.3">NR</text>
</g>
<line x1="403.84000000000003" y1="339.7" x2="403.84000000000003" y2="342.6" stroke="#000" stroke-width="1.2"/>
<g transform="translate(408.94,349.5) rotate(-45)">
<text transform="translate(0,0) scale(1.0,1)" font-size="6.600" text-anchor="end" fill="#0a0a0a" stroke="#0a0a0a" stroke-width="0.3">NR</text>
</g>
<line x1="412.3" y1="339.7" x2="412.3" y2="342.6" stroke="#000" stroke-width="1.2"/>
<g transform="translate(417.40,349.5) rotate(-45)">
<text transform="translate(0,0) scale(1.0,1)" font-size="6.600" text-anchor="end" fill="#0a0a0a" stroke="#0a0a0a" stroke-width="0.3">NR</text>
</g>
<line x1="420.76" y1="339.7" x2="420.76" y2="342.6" stroke="#000" stroke-width="1.2"/>
<g transform="translate(425.86,349.5) rotate(-45)">
<text transform="translate(0,0) scale(1.0,1)" font-size="6.600" text-anchor="end" fill="#0a0a0a" stroke="#0a0a0a" stroke-width="0.3">NR</text>
</g>
<line x1="429.22" y1="339.7" x2="429.22" y2="342.6" stroke="#000" stroke-width="1.2"/>
<g transform="translate(434.32,349.5) rotate(-45)">
<text transform="translate(0,0) scale(1.0,1)" font-size="6.600" text-anchor="end" fill="#0a0a0a" stroke="#0a0a0a" stroke-width="0.3">NR</text>
</g>
<line x1="437.68" y1="339.7" x2="437.68" y2="342.6" stroke="#000" stroke-width="1.2"/>
<g transform="translate(442.78,349.5) rotate(-45)">
<text transform="translate(0,0) scale(1.0,1)" font-size="6.600" text-anchor="end" fill="#0a0a0a" stroke="#0a0a0a" stroke-width="0.3">NR</text>
</g>
<line x1="446.14" y1="339.7" x2="446.14" y2="342.6" stroke="#000" stroke-width="1.2"/>
<g transform="translate(451.24,349.5) rotate(-45)">
<text transform="translate(0,0) scale(1.0,1)" font-size="6.600" text-anchor="end" fill="#0a0a0a" stroke="#0a0a0a" stroke-width="0.3">NR</text>
</g>
<line x1="454.6" y1="339.7" x2="454.6" y2="342.6" stroke="#000" stroke-width="1.2"/>
<g transform="translate(459.70,349.5) rotate(-45)">
<text transform="translate(0,0) scale(1.0,1)" font-size="6.600" text-anchor="end" fill="#0a0a0a" stroke="#0a0a0a" stroke-width="0.3">NR</text>
</g>
<line x1="463.06" y1="339.7" x2="463.06" y2="342.6" stroke="#000" stroke-width="1.2"/>
<g transform="translate(468.16,349.5) rotate(-45)">
<text transform="translate(0,0) scale(1.0,1)" font-size="6.600" text-anchor="end" fill="#0a0a0a" stroke="#0a0a0a" stroke-width="0.3">NR</text>
</g>
<line x1="471.52" y1="339.7" x2="471.52" y2="342.6" stroke="#000" stroke-width="1.2"/>
<g transform="translate(476.62,349.5) rotate(-45)">
<text transform="translate(0,0) scale(1.0,1)" font-size="6.600" text-anchor="end" fill="#0a0a0a" stroke="#0a0a0a" stroke-width="0.3">NR</text>
</g>
<line x1="479.98" y1="339.7" x2="479.98" y2="342.6" stroke="#000" stroke-width="1.2"/>
<g transform="translate(485.08,349.5) rotate(-45)">
<text transform="translate(0,0) scale(1.0,1)" font-size="6.600" text-anchor="end" fill="#0a0a0a" stroke="#0a0a0a" stroke-width="0.3">NR</text>
</g>
<line x1="488.44" y1="339.7" x2="488.44" y2="342.6" stroke="#000" stroke-width="1.2"/>
<g transform="translate(493.54,349.5) rotate(-45)">
<text transform="translate(0,0) scale(1.0,1)" font-size="6.600" text-anchor="end" fill="#0a0a0a" stroke="#0a0a0a" stroke-width="0.3">NR</text>
</g>
<g transform="translate(344.6,287.3) rotate(-90)">
<text transform="translate(0,0) scale(0.88,1)" font-size="10.341" text-anchor="middle" fill="#0a0a0a" stroke="#0a0a0a" stroke-width="0.3">Mutation VAF</text>
</g>
<line x1="370.1" y1="276" x2="370.1" y2="330" stroke="#1a1a1a" stroke-width="1.35" stroke-dasharray="1.0,0.75"/>
<line x1="378.8" y1="252" x2="378.8" y2="326" stroke="#1a1a1a" stroke-width="1.35" stroke-dasharray="1.0,0.75"/>
<line x1="412.4" y1="240" x2="412.4" y2="270" stroke="#1a1a1a" stroke-width="1.35" stroke-dasharray="1.0,0.75"/>
<line x1="421.0" y1="244" x2="421.0" y2="334" stroke="#1a1a1a" stroke-width="1.35" stroke-dasharray="1.0,0.75"/>
<line x1="429.3" y1="252" x2="429.3" y2="332" stroke="#1a1a1a" stroke-width="1.35" stroke-dasharray="1.0,0.75"/>
<line x1="437.7" y1="258" x2="437.7" y2="286" stroke="#1a1a1a" stroke-width="1.35" stroke-dasharray="1.0,0.75"/>
<line x1="446.2" y1="260" x2="446.2" y2="338" stroke="#1a1a1a" stroke-width="1.35" stroke-dasharray="1.0,0.75"/>
<line x1="454.6" y1="262" x2="454.6" y2="338" stroke="#1a1a1a" stroke-width="1.35" stroke-dasharray="1.0,0.75"/>
<line x1="463.1" y1="270" x2="463.1" y2="330" stroke="#1a1a1a" stroke-width="1.35" stroke-dasharray="1.0,0.75"/>
<line x1="471.6" y1="282" x2="471.6" y2="336" stroke="#1a1a1a" stroke-width="1.35" stroke-dasharray="1.0,0.75"/>
<line x1="480.1" y1="286" x2="480.1" y2="316" stroke="#1a1a1a" stroke-width="1.35" stroke-dasharray="1.0,0.75"/>
<line x1="488.4" y1="324" x2="488.4" y2="340" stroke="#1a1a1a" stroke-width="1.35" stroke-dasharray="1.0,0.75"/>
<rect x="367.80" y="273.42" width="4.6" height="4.6" fill="#2d4a7e" stroke="#1b2b50" stroke-width="0.6"/>
<circle cx="370.10" cy="329.54" r="2.40" fill="#a8123c" stroke="#6b0a26" stroke-width="0.6"/>
<rect x="376.50" y="323.25" width="4.6" height="4.6" fill="#2d4a7e" stroke="#1b2b50" stroke-width="0.6"/>
<circle cx="378.80" cy="251.81" r="2.40" fill="#a8123c" stroke="#6b0a26" stroke-width="0.6"/>
<rect x="410.10" y="237.55" width="4.6" height="4.6" fill="#2d4a7e" stroke="#1b2b50" stroke-width="0.6"/>
<circle cx="412.40" cy="269.75" r="2.40" fill="#a8123c" stroke="#6b0a26" stroke-width="0.6"/>
<rect x="418.70" y="241.54" width="4.6" height="4.6" fill="#2d4a7e" stroke="#1b2b50" stroke-width="0.6"/>
<circle cx="421.00" cy="333.52" r="2.40" fill="#a8123c" stroke="#6b0a26" stroke-width="0.6"/>
<rect x="427.00" y="249.51" width="4.6" height="4.6" fill="#2d4a7e" stroke="#1b2b50" stroke-width="0.6"/>
<circle cx="429.30" cy="331.53" r="2.40" fill="#a8123c" stroke="#6b0a26" stroke-width="0.6"/>
<rect x="435.40" y="255.49" width="4.6" height="4.6" fill="#2d4a7e" stroke="#1b2b50" stroke-width="0.6"/>
<circle cx="437.70" cy="285.69" r="2.40" fill="#a8123c" stroke="#6b0a26" stroke-width="0.6"/>
<rect x="443.90" y="257.48" width="4.6" height="4.6" fill="#2d4a7e" stroke="#1b2b50" stroke-width="0.6"/>
<circle cx="446.20" cy="337.51" r="2.40" fill="#a8123c" stroke="#6b0a26" stroke-width="0.6"/>
<rect x="452.30" y="259.47" width="4.6" height="4.6" fill="#2d4a7e" stroke="#1b2b50" stroke-width="0.6"/>
<circle cx="454.60" cy="337.51" r="2.40" fill="#a8123c" stroke="#6b0a26" stroke-width="0.6"/>
<rect x="460.80" y="267.44" width="4.6" height="4.6" fill="#2d4a7e" stroke="#1b2b50" stroke-width="0.6"/>
<circle cx="463.10" cy="329.54" r="2.40" fill="#a8123c" stroke="#6b0a26" stroke-width="0.6"/>
<rect x="469.30" y="279.40" width="4.6" height="4.6" fill="#2d4a7e" stroke="#1b2b50" stroke-width="0.6"/>
<circle cx="471.60" cy="335.51" r="2.40" fill="#a8123c" stroke="#6b0a26" stroke-width="0.6"/>
<rect x="477.80" y="283.39" width="4.6" height="4.6" fill="#2d4a7e" stroke="#1b2b50" stroke-width="0.6"/>
<circle cx="480.10" cy="315.58" r="2.40" fill="#a8123c" stroke="#6b0a26" stroke-width="0.6"/>
<rect x="486.10" y="337.20" width="4.6" height="4.6" fill="#2d4a7e" stroke="#1b2b50" stroke-width="0.6"/>
<circle cx="488.40" cy="323.56" r="2.40" fill="#a8123c" stroke="#6b0a26" stroke-width="0.6"/>
<circle cx="394.20" cy="241.84" r="2.40" fill="#a8123c" stroke="#6b0a26" stroke-width="0.6"/>
<rect x="397.10" y="235.56" width="4.6" height="4.6" fill="#2d4a7e" stroke="#1b2b50" stroke-width="0.6"/>
<circle cx="402.60" cy="253.80" r="2.40" fill="#a8123c" stroke="#6b0a26" stroke-width="0.6"/>
<rect x="405.70" y="249.51" width="4.6" height="4.6" fill="#2d4a7e" stroke="#1b2b50" stroke-width="0.6"/>
<rect x="459.7" y="220.9" width="5.2" height="5.2" fill="#2d4a7e"/>
<circle cx="462.30" cy="235.20" r="2.40" fill="#a8123c" stroke="#6b0a26" stroke-width="0.6"/>
<text transform="translate(467.8,226.2) scale(0.88,1)" font-size="8.977" text-anchor="start" fill="#0a0a0a" stroke="#0a0a0a" stroke-width="0.3">m<tspan font-style="italic">IDH2</tspan></text>
<text transform="translate(467.8,237.9) scale(0.88,1)" font-size="8.977" text-anchor="start" fill="#0a0a0a" stroke="#0a0a0a" stroke-width="0.3">m<tspan font-style="italic">NRAS</tspan></text>
</g>
<rect x="0" y="1" width="520" height="1" fill="#9a9a9a"/>
<rect x="1" y="0" width="1" height="364" fill="#8a8a8a"/>
<rect x="518" y="0" width="1" height="364" fill="#484848"/>
<rect x="0" y="362" width="520" height="1" fill="#5a5a5a"/>
<rect x="0" y="0" width="520" height="1" fill="#000"/>
<rect x="0" y="0" width="1" height="364" fill="#000"/>
<rect x="519" y="0" width="1" height="364" fill="#000"/>
<rect x="0" y="363" width="520" height="1" fill="#000"/>
</svg>
</body></html>
